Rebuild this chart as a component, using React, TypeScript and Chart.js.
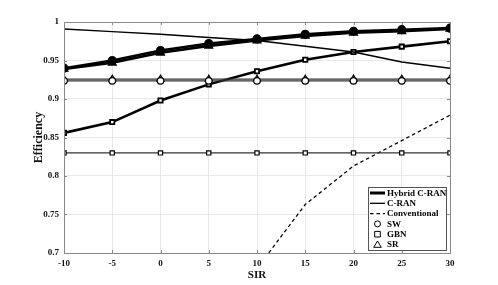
import React, { useEffect, useRef } from 'react';
import { Chart, registerables } from 'chart.js';
Chart.register(...registerables);

const sir = [-10, -5, 0, 5, 10, 15, 20, 25, 30];
const hybridSW = [0.940, 0.950, 0.963, 0.972, 0.978, 0.984, 0.988, 0.990, 0.992];
const hybridSR = [0.939, 0.947, 0.960, 0.969, 0.976, 0.982, 0.986, 0.988, 0.991];
const hybridGBN = [0.856, 0.870, 0.898, 0.919, 0.936, 0.951, 0.961, 0.968, 0.975];
const cranLine = [0.991, 0.9875, 0.984, 0.980, 0.976, 0.9685, 0.961, 0.948, 0.940];
const cranSW = [0.9236, 0.9236, 0.9236, 0.9236, 0.9236, 0.9236, 0.9236, 0.9236, 0.9236];
const cranSR = [0.9258, 0.9258, 0.9258, 0.9258, 0.9258, 0.9258, 0.9258, 0.9258, 0.9258];
const cranGBN = [0.830, 0.830, 0.830, 0.830, 0.830, 0.830, 0.830, 0.830, 0.830];
const conventional = [null, null, null, null, 0.680, 0.763, 0.813, 0.846, 0.879];
const yTicks = [0.7, 0.75, 0.8, 0.85, 0.9, 0.95, 1];
const legendLabels = ['Hybrid C-RAN', 'C-RAN', 'Conventional', 'SW', 'GBN', 'SR'];

const FONT = '"Liberation Serif", "Times New Roman", serif';

const pts = (ys: (number | null)[]) => sir.map((x, i) => ({ x, y: ys[i] }));

const boxPlugin = {
  id: 'boxAndLegend',
  afterDraw(chart: any) {
    const { ctx, chartArea: a, scales } = chart;
    ctx.save();
    ctx.strokeStyle = '#8a8a8a';
    ctx.lineWidth = 1;
    ctx.strokeRect(a.left + 0.5, a.top + 0.5, a.right - a.left, a.bottom - a.top);
    // inward ticks
    ctx.beginPath();
    scales.y.ticks.forEach((t: any) => {
      const y = Math.round(scales.y.getPixelForValue(t.value)) + 0.5;
      ctx.moveTo(a.left, y); ctx.lineTo(a.left + 3, y);
      ctx.moveTo(a.right, y); ctx.lineTo(a.right - 3, y);
    });
    scales.x.ticks.forEach((t: any) => {
      const x = Math.round(scales.x.getPixelForValue(t.value)) + 0.5;
      ctx.moveTo(x, a.bottom); ctx.lineTo(x, a.bottom - 3);
      ctx.moveTo(x, a.top); ctx.lineTo(x, a.top + 3);
    });
    ctx.stroke();
    // legend
    const bx = 368, by = 187, bw = 78, bh = 63;
    ctx.fillStyle = '#fff';
    ctx.fillRect(bx, by, bw, bh);
    ctx.strokeStyle = '#555';
    ctx.strokeRect(bx + 0.5, by + 0.5, bw, bh);
    ctx.font = `bold 9px ${FONT}`;
    ctx.textBaseline = 'middle';
    ctx.textAlign = 'left';
    const rowH = 10.3;
    legendLabels.forEach((lab, i) => {
      const cy = by + 6 + i * rowH;
      ctx.strokeStyle = '#000';
      ctx.fillStyle = '#000';
      if (i === 0) {
        ctx.lineWidth = 3; ctx.setLineDash([]);
        ctx.beginPath(); ctx.moveTo(370, cy); ctx.lineTo(385, cy); ctx.stroke();
      } else if (i === 1) {
        ctx.lineWidth = 1.3; ctx.setLineDash([]);
        ctx.beginPath(); ctx.moveTo(370, cy); ctx.lineTo(385, cy); ctx.stroke();
      } else if (i === 2) {
        ctx.lineWidth = 1.3; ctx.setLineDash([3.5, 3]);
        ctx.beginPath(); ctx.moveTo(370, cy); ctx.lineTo(385, cy); ctx.stroke();
        ctx.setLineDash([]);
      } else {
        ctx.lineWidth = 1;
        ctx.beginPath();
        const mx = 377.5;
        if (i === 3) ctx.arc(mx, cy, 3, 0, Math.PI * 2);
        else if (i === 4) ctx.rect(mx - 2.8, cy - 2.8, 5.6, 5.6);
        else { ctx.moveTo(mx, cy - 3.5); ctx.lineTo(mx + 3.8, cy + 2.8); ctx.lineTo(mx - 3.8, cy + 2.8); ctx.closePath(); }
        ctx.stroke();
      }
      ctx.fillText(lab, 387, cy + 0.5);
    });
    ctx.restore();
  },
};

export default function App() {
  const ref = useRef<HTMLCanvasElement>(null);
  useEffect(() => {
    document.body.style.margin = '0';
    const thick = (ys: number[], style: string, r: number, fill: string) => ({
      data: pts(ys), borderColor: '#000', borderWidth: 2.6, pointStyle: style, pointRadius: r,
      pointBorderColor: '#000', pointBackgroundColor: fill, pointBorderWidth: 1.8,
    });
    const thin = (ys: number[], style: string, r: number) => ({
      data: pts(ys), borderColor: '#333', borderWidth: 1.3, pointStyle: style, pointRadius: r,
      pointBorderColor: '#000', pointBackgroundColor: '#fff', pointBorderWidth: 1.2,
    });
    const chart = new Chart(ref.current!, {
      type: 'line',
      data: {
        datasets: [
          thin(cranGBN, 'rect', 3),
          thin(cranSW, 'circle', 3.3),
          thin(cranSR, 'triangle', 4),
          { data: pts(cranLine), borderColor: '#000', borderWidth: 1.5, pointRadius: 0 },
          { data: pts(conventional), borderColor: '#000', borderWidth: 1.3, borderDash: [3.5, 3], pointRadius: 0 },
          thick(hybridGBN, 'rect', 3, '#fff'),
          thick(hybridSR, 'triangle', 4, '#000'),
          thick(hybridSW, 'circle', 3.7, '#000'),
        ] as any,
      },
      options: {
        animation: false,
        responsive: false,
        maintainAspectRatio: false,
        layout: { padding: { left: 32, right: 48, top: 22, bottom: 3 } },
        plugins: { legend: { display: false }, tooltip: { enabled: false } },
        scales: {
          x: {
            type: 'linear', min: -10, max: 30,
            afterBuildTicks: (s: any) => { s.ticks = sir.map((v) => ({ value: v })); },
            afterFit: (s: any) => { s.height = 29; },
            grid: { color: '#e8e8e8', drawTicks: false },
            border: { display: false },
            ticks: { color: '#111', padding: 5, font: { family: FONT, size: 9, weight: 'bold' } },
            title: { display: true, text: 'SIR', color: '#111', padding: { top: 0, bottom: 0 }, font: { family: FONT, size: 11, weight: 'bold' } },
          },
          y: {
            type: 'linear', min: 0.7, max: 1,
            afterBuildTicks: (s: any) => { s.ticks = yTicks.map((v) => ({ value: v })); },
            afterFit: (s: any) => { s.width = 32; },
            grid: { color: '#e8e8e8', drawTicks: false },
            border: { display: false },
            ticks: { color: '#111', padding: 5, font: { family: FONT, size: 9, weight: 'bold' }, callback: (v: any) => String(Number(v.toFixed(2))) },
            title: { display: true, text: 'Efficiency', color: '#111', padding: { top: 0, bottom: 0 }, font: { family: FONT, size: 12, weight: 'bold' } },
          },
        },
      } as any,
      plugins: [boxPlugin],
    });
    return () => chart.destroy();
  }, []);
  return (
    <div style={{ position: 'fixed', left: 0, top: 0, width: 498, height: 285, background: '#fff' }}>
      <canvas ref={ref} width={498} height={285} style={{ width: 498, height: 285 }} />
    </div>
  );
}
